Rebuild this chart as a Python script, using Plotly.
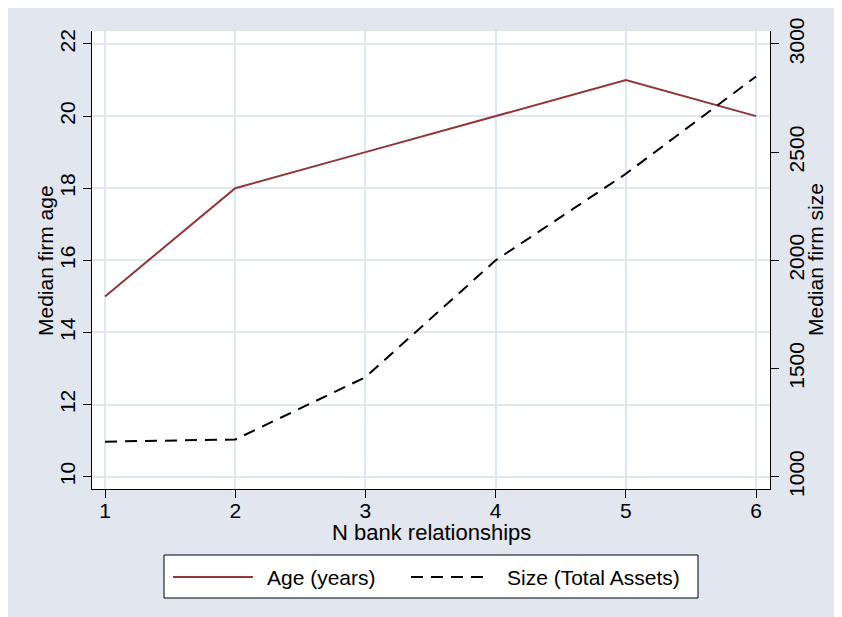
import plotly.graph_objects as go

# Data
n_banks = [1, 2, 3, 4, 5, 6]
age_years = [15, 18, 19, 20, 21, 20]
size_assets = [1162, 1172, 1460, 2000, 2400, 2850]

age_ticks = [10, 12, 14, 16, 18, 20, 22]
size_ticks = [1000, 1500, 2000, 2500, 3000]

BG = "#e1e6ef"
GRID = "#e1e7f0"
FONT = "Liberation Sans"
FS = 21

# page offset (body margin)
OX, OY = 8, 9
W, H = 842, 617
# Plot area in page pixels (from reference)
PL, PR, PT, PB = 92, 770, 32, 490
L, R, T, B = PL - OX, PR - OX, PT - OY, PB - OY


def px(x):
    return (x - PL) / (PR - PL)


def py(y):
    return (PB - y) / (PB - PT)


fig = go.Figure()
fig.add_trace(go.Scatter(x=n_banks, y=age_years, mode="lines", name="Age (years)",
                         line=dict(color="#90353b", width=2), showlegend=False, yaxis="y"))
fig.add_trace(go.Scatter(x=n_banks, y=size_assets, mode="lines", name="Size (Total Assets)",
                         line=dict(color="black", width=2, dash="12px,8px"), showlegend=False, yaxis="y2"))

y_lo, y_hi = 9.659, 22.36
fig.update_layout(
    width=W, height=H,
    margin=dict(l=L, r=W - R, t=T, b=H - B, autoexpand=False),
    paper_bgcolor=BG, plot_bgcolor="white",
    font=dict(family=FONT, size=FS, color="black"),
    xaxis=dict(range=[0.9, 6.107], tickvals=n_banks, ticks="outside", ticklen=8, tickcolor="black",
               showline=True, linecolor="black", linewidth=1, showgrid=True, gridcolor=GRID, gridwidth=1.5,
               zeroline=False, tickfont=dict(size=FS), ticklabelstandoff=-5),
    yaxis=dict(range=[y_lo, y_hi], tickvals=age_ticks, ticks="outside", ticklen=8, tickcolor="black",
               tickangle=-90, showline=True, linecolor="black", linewidth=1, showgrid=True,
               gridcolor=GRID, gridwidth=1.5, zeroline=False, tickfont=dict(size=FS)),
    yaxis2=dict(range=[1000 + (y_lo - 10) * 2000 / 12, 1000 + (y_hi - 10) * 2000 / 12],
                tickvals=size_ticks, overlaying="y", side="right", ticks="outside", ticklen=8,
                tickcolor="black", tickangle=-90, showline=True, linecolor="black", linewidth=1,
                showgrid=False, zeroline=False, tickfont=dict(size=FS)),
    showlegend=False,
)

shapes = [
    # legend box
    dict(type="rect", xref="paper", yref="paper", x0=px(164), x1=px(698), y0=py(599), y1=py(556),
         fillcolor="white", line=dict(color="black", width=1)),
    dict(type="line", xref="paper", yref="paper", x0=px(173), x1=px(253), y0=py(578), y1=py(578),
         line=dict(color="#90353b", width=2)),
    dict(type="line", xref="paper", yref="paper", x0=px(411), x1=px(491), y0=py(578), y1=py(578),
         line=dict(color="black", width=2, dash="12px,8px")),
]
annotations = [
    # axis titles
    dict(text="N bank relationships", xref="paper", yref="paper", x=px(431), y=py(533),
         xanchor="center", yanchor="middle", showarrow=False, font=dict(size=FS + 1)),
    dict(text="Median firm age", xref="paper", yref="paper", x=px(45), y=py(261),
         xanchor="center", yanchor="middle", textangle=-90, showarrow=False, font=dict(size=FS)),
    dict(text="Median firm size", xref="paper", yref="paper", x=px(815), y=py(261),
         xanchor="center", yanchor="middle", textangle=-90, showarrow=False, font=dict(size=FS)),
    # legend labels
    dict(text="Age (years)", xref="paper", yref="paper", x=px(265), y=py(578), xanchor="left",
         yanchor="middle", showarrow=False, font=dict(size=FS)),
    dict(text="Size (Total Assets)", xref="paper", yref="paper", x=px(505), y=py(578), xanchor="left",
         yanchor="middle", showarrow=False, font=dict(size=FS)),
]
fig.update_layout(shapes=shapes, annotations=annotations)

fig.write_html("out.html")
